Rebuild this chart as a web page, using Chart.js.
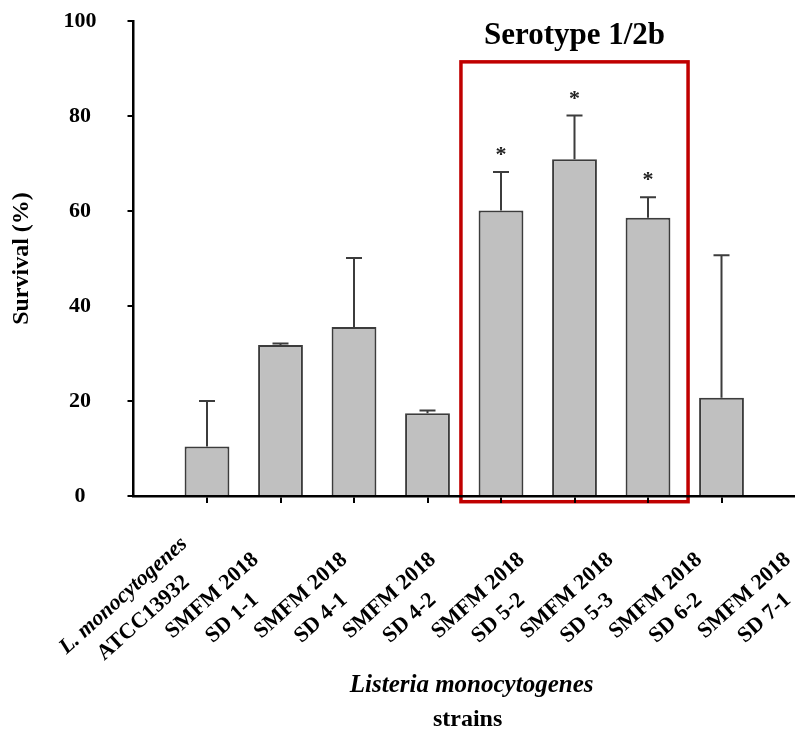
<!DOCTYPE html>
<html>
<head>
<meta charset="utf-8">
<script src="https://cdn.jsdelivr.net/npm/chart.js@4.4.0/dist/chart.umd.min.js"></script>
<style>
  html, body { margin: 0; padding: 0; background: #fff; }
  #wrap { position: relative; width: 795px; height: 729px; }
</style>
</head>
<body>
<div id="wrap"><canvas id="survivalChart"></canvas></div>
<script>
// strains, two lines of text each
const strainLabels = [
    ['L. monocytogenes', 'ATCC13932'],
    ['SMFM 2018', 'SD 1-1'],
    ['SMFM 2018', 'SD 4-1'],
    ['SMFM 2018', 'SD 4-2'],
    ['SMFM 2018', 'SD 5-2'],
    ['SMFM 2018', 'SD 5-3'],
    ['SMFM 2018', 'SD 6-2'],
    ['SMFM 2018', 'SD 7-1']
];
const survival   = [10.4, 31.8, 35.6, 17.4, 60.1, 70.9, 58.6, 20.7];
const survivalSD = [9.6, 0.3, 14.5, 0.6, 8.1, 9.2, 4.3, 30.0];
const significant = [false, false, false, false, true, true, true, false];
const yTicks = [0, 20, 40, 60, 80, 100];
const serotypeGroup = [4, 6]; // first and last strain inside the red box
const serotypeTitle = 'Serotype 1/2b';

const serif = '"Liberation Serif", "Times New Roman", serif';

// red frame round the 1/2b strains
const serotypeBox = {
    id: 'serotypeBox',
    beforeDraw(chart) {
        const { ctx, scales: { x, y } } = chart;
        const left = x.getPixelForValue(serotypeGroup[0] + 1 - 0.545);
        const right = x.getPixelForValue(serotypeGroup[1] + 1 + 0.545);
        const top = y.getPixelForValue(91.4);
        const bottom = y.getPixelForValue(-1.2);
        ctx.save();
        ctx.strokeStyle = '#c00000';
        ctx.lineWidth = 3.5;
        ctx.strokeRect(left, top, right - left, bottom - top);
        ctx.fillStyle = '#000';
        ctx.font = 'bold 31px ' + serif;
        ctx.textAlign = 'center';
        ctx.textBaseline = 'alphabetic';
        ctx.fillText(serotypeTitle, (left + right) / 2, top - 18);
        ctx.restore();
    }
};

// SD whiskers (upper only) and significance stars
const errorBars = {
    id: 'errorBars',
    afterDatasetsDraw(chart) {
        const { ctx, scales: { y } } = chart;
        const bars = chart.getDatasetMeta(0).data;
        ctx.save();
        bars.forEach((bar, i) => {
            const top = y.getPixelForValue(survival[i]);
            const cap = y.getPixelForValue(survival[i] + survivalSD[i]);
            ctx.strokeStyle = '#3c3c3c';
            ctx.lineWidth = 2;
            ctx.beginPath();
            ctx.moveTo(bar.x, top);
            ctx.lineTo(bar.x, cap);
            ctx.moveTo(bar.x - 8, cap);
            ctx.lineTo(bar.x + 8, cap);
            ctx.stroke();
            if (significant[i]) {
                ctx.fillStyle = '#222';
                ctx.font = 'bold 22px ' + serif;
                ctx.textAlign = 'center';
                ctx.textBaseline = 'alphabetic';
                ctx.fillText('*', bar.x, cap - 11);
            }
        });
        ctx.restore();
    }
};

// slanted strain names and the x axis title
const strainAxis = {
    id: 'strainAxis',
    afterDraw(chart) {
        const { ctx, chartArea, scales: { x } } = chart;
        ctx.save();
        ctx.fillStyle = '#000';
        ctx.textAlign = 'center';
        ctx.textBaseline = 'middle';
        strainLabels.forEach((lines, i) => {
            const cx = x.getPixelForValue(i * 1.207);
            ctx.save();
            ctx.translate(cx, chartArea.bottom + 111);
            ctx.rotate(-42 * Math.PI / 180);
            lines.forEach((t, j) => {
                ctx.font = (i === 0 && j === 0 ? 'italic ' : '') + 'bold 22px ' + serif;
                ctx.fillText(t, 0, (j - 0.5) * 30);
            });
            ctx.restore();
        });
        const tx = x.getPixelForValue(4.6);
        ctx.font = 'italic bold 25px ' + serif;
        ctx.fillText('Listeria monocytogenes', tx, chartArea.bottom + 190);
        ctx.font = 'bold 24px ' + serif;
        ctx.fillText('strains', tx - 4, chartArea.bottom + 224);
        ctx.restore();
    }
};

new Chart(document.getElementById('survivalChart'), {
    type: 'bar',
    data: {
        datasets: [{
            data: survival.map((v, i) => ({ x: i + 1, y: v })),
            backgroundColor: '#c0c0c0',
            borderColor: '#3c3c3c',
            borderWidth: 2,
            borderSkipped: 'bottom',
            barPercentage: 0.61,
            categoryPercentage: 1
        }]
    },
    options: {
        responsive: true,
        maintainAspectRatio: false,
        animation: false,
        layout: { padding: { top: 21, right: 0, bottom: 0, left: 0 } },
        plugins: {
            legend: { display: false },
            tooltip: { enabled: false }
        },
        scales: {
            x: {
                type: 'linear',
                min: 0,
                max: 9,
                offset: false,
                afterBuildTicks: s => { s.ticks = s.ticks.filter(t => t.value >= 1 && t.value <= 8); },
                afterFit: s => { s.height = 233; },
                ticks: { display: false, stepSize: 1 },
                grid: { offset: false, drawOnChartArea: false, tickLength: 7, color: '#000', lineWidth: 2 },
                border: { color: '#000', width: 2.5 }
            },
            y: {
                min: 0,
                max: 100,
                afterBuildTicks: s => { s.ticks = yTicks.map(v => ({ value: v })); },
                afterFit: s => {
                    s.width = 133.5;
                    s.paddingTop = 0;
                    s.paddingBottom = 0;
                },
                ticks: {
                    color: '#000',
                    font: { family: serif, size: 22, weight: 'bold' },
                    padding: 31,
                    crossAlign: 'center'
                },
                grid: { drawOnChartArea: false, tickLength: 6, color: '#000', lineWidth: 2 },
                border: { color: '#000', width: 2.5 },
                title: {
                    display: true,
                    text: 'Survival (%)',
                    color: '#000',
                    font: { family: serif, size: 24, weight: 'bold' },
                    padding: { top: 7, bottom: 0 }
                }
            }
        }
    },
    plugins: [serotypeBox, errorBars, strainAxis]
});
</script>
</body>
</html>
